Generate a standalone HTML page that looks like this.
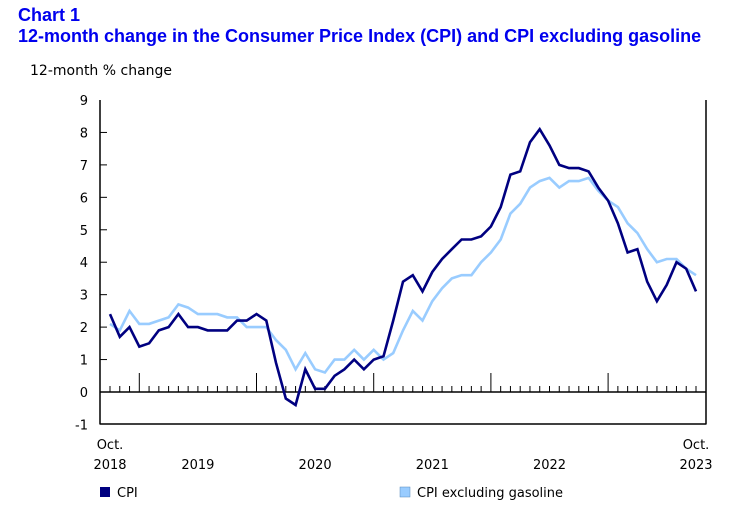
<!DOCTYPE html>
<html><head><meta charset="utf-8"><style>
body{margin:0;background:#fff;width:750px;height:507px;overflow:hidden;font-family:"DejaVu Sans","Liberation Sans",sans-serif;}
.t{position:absolute;left:18px;color:#0000ee;font-weight:bold;font-size:18px;font-family:"Liberation Sans",Arial,sans-serif;}
</style></head><body>
<div class="t" style="top:5px">Chart 1</div>
<div class="t" style="top:26px">12-month change in the Consumer Price Index (CPI) and CPI excluding gasoline</div>
<svg id="c" width="750" height="507" style="position:absolute;left:0;top:0"></svg>
<script>
const yTicks=[-1,0,1,2,3,4,5,6,7,8,9];
const cpi=[2.4,1.7,2.0,1.4,1.5,1.9,2.0,2.4,2.0,2.0,1.9,1.9,1.9,2.2,2.2,2.4,2.2,0.9,-0.2,-0.4,0.7,0.1,0.1,0.5,0.7,1.0,0.7,1.0,1.1,2.2,3.4,3.6,3.1,3.7,4.1,4.4,4.7,4.7,4.8,5.1,5.7,6.7,6.8,7.7,8.1,7.6,7.0,6.9,6.9,6.8,6.3,5.9,5.2,4.3,4.4,3.4,2.8,3.3,4.0,3.8,3.1];
const cpiExGas=[2.1,1.9,2.5,2.1,2.1,2.2,2.3,2.7,2.6,2.4,2.4,2.4,2.3,2.3,2.0,2.0,2.0,1.6,1.3,0.7,1.2,0.7,0.6,1.0,1.0,1.3,1.0,1.3,1.0,1.2,1.9,2.5,2.2,2.8,3.2,3.5,3.6,3.6,4.0,4.3,4.7,5.5,5.8,6.3,6.5,6.6,6.3,6.5,6.5,6.6,6.2,5.9,5.7,5.2,4.9,4.4,4.0,4.1,4.1,3.8,3.6];
const yearLabels=["2019","2020","2021","2022"];
const svg=document.getElementById('c');const NS='http://www.w3.org/2000/svg';
const X=i=>110+i*(586/60);const Y=v=>392-v*(292/9);
function mk(t,a,txt){const e=document.createElementNS(NS,t);for(const k in a)e.setAttribute(k,a[k]);if(txt!==undefined)e.textContent=txt;svg.appendChild(e);return e;}
let e;
e=mk('text',{x:30,y:75,'font-size':14,fill:'#000'},'12-month % change');


yTicks.forEach(v=>{
 e=mk('text',{x:88,y:Y(v)+5,'font-size':13,'text-anchor':'end',fill:'#000'},String(v));
 
 
 if(v>-1&&v<9){mk('line',{x1:100,x2:107,y1:Y(v),y2:Y(v),stroke:'#000','stroke-width':1});}
});
mk('line',{x1:100,x2:100,y1:100,y2:424.5,stroke:'#000','stroke-width':1.5});
mk('line',{x1:100,x2:706,y1:424,y2:424,stroke:'#000','stroke-width':1.5});
mk('line',{x1:706,x2:706,y1:100,y2:424.5,stroke:'#000','stroke-width':1.5});
mk('line',{x1:100,x2:706,y1:392,y2:392,stroke:'#000','stroke-width':1.5});
for(let i=0;i<=60;i++){const maj=(i%12)==3;mk('line',{x1:X(i),x2:X(i),y1:392,y2:maj?373:386,stroke:'#000','stroke-width':1});}
yearLabels.forEach((y,k)=>{e=mk('text',{x:X(9+12*k),y:469,'font-size':13,'text-anchor':'middle'},y);
 
 });
[[0,'Oct.','2018'],[60,'Oct.','2023']].forEach(a=>{
 e=mk('text',{x:X(a[0]),y:449,'font-size':13,'text-anchor':'middle'},a[1]);
 
 
 e=mk('text',{x:X(a[0]),y:469,'font-size':13,'text-anchor':'middle'},a[2]);
 
 });
function line(d,col,name){const p=d.map((v,i)=>(i?'L':'M')+X(i).toFixed(1)+','+Y(v).toFixed(1)).join('');
 const l=mk('path',{d:p,fill:'none',stroke:col,'stroke-width':2.6,'stroke-linejoin':'miter'});
 
 }
line(cpiExGas,'#99ccff','cpi-excluding-gasoline-line');
line(cpi,'#000080','cpi-line');
e=mk('rect',{x:100,y:487,width:10,height:10,fill:'#000080'});


e=mk('text',{x:117,y:497,'font-size':13},'CPI');


e=mk('rect',{x:400,y:487,width:10,height:10,fill:'#99ccff',stroke:'#5588bb','stroke-width':0.5});


e=mk('text',{x:417,y:497,'font-size':13},'CPI excluding gasoline');


</script>
</body></html>
